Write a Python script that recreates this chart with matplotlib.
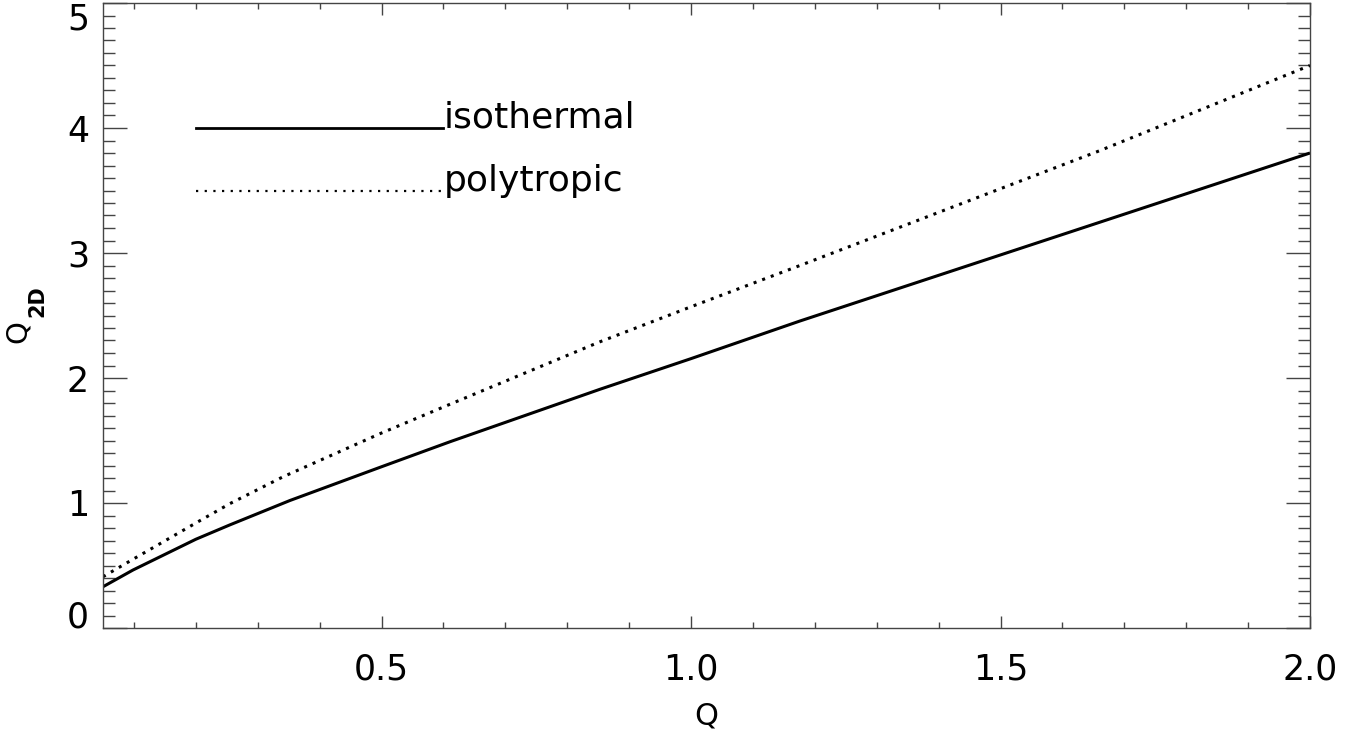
import numpy as np
import matplotlib.pyplot as plt
from matplotlib.ticker import MultipleLocator

# values
q_iso = [0.05, 0.0985, 0.2, 0.255, 0.352, 0.5, 0.6106, 0.853, 1.0, 1.176, 1.4506, 2.0]
q2d_iso = [0.33, 0.464, 0.71, 0.825, 1.02, 1.29, 1.49, 1.91, 2.155, 2.456, 2.904, 3.80]

q_poly = [0.05, 0.0985, 0.2, 0.255, 0.341, 0.5, 0.6106, 0.853, 1.0, 1.176, 1.661, 2.0]
q2d_poly = [0.41, 0.55, 0.84, 0.995, 1.21, 1.56, 1.79, 2.29, 2.57, 2.90, 3.82, 4.50]

legend_labels = ['isothermal', 'polytropic']
legend_y = [4.0, 3.5]
legend_x = [0.2, 0.6]

plt.rcParams['font.family'] = ['DejaVu Sans']

fig = plt.figure(figsize=(13.62, 7.36), dpi=100)
ax = fig.add_axes([103 / 1362, 108 / 736, 1207 / 1362, 625 / 736])

ax.plot(q_iso, q2d_iso, color='black', lw=2.2, solid_capstyle='butt')
ax.plot(q_poly, q2d_poly, color='black', lw=2.2, linestyle=(0, (1, 2)), dash_capstyle='butt')

# hand-made legend inside the plot
ax.plot(legend_x, [legend_y[0]] * 2, color='black', lw=2.0)
ax.plot(legend_x, [legend_y[1]] * 2, color='black', lw=1.6, linestyle=(0, (1, 2.9)))
for lab, yy in zip(legend_labels, legend_y):
    ax.text(legend_x[1], yy, lab, fontsize=26, va='baseline', ha='left')

ax.set_xlim(0.05, 2.0)
ax.set_ylim(0, 5)
ax.set_xticks([0.5, 1.0, 1.5, 2.0])
ax.set_yticks([0, 1, 2, 3, 4, 5])
ax.xaxis.set_minor_locator(MultipleLocator(0.1))
ax.yaxis.set_minor_locator(MultipleLocator(0.1))
ax.xaxis.set_major_formatter(plt.FormatStrFormatter('%.1f'))

edge = '#444444'
for s in ax.spines.values():
    s.set_color(edge)
    s.set_linewidth(1.0)
ax.tick_params(axis='both', which='both', direction='in', top=True, right=True,
               color=edge, width=1.0, labelsize=25)
ax.tick_params(axis='x', which='major', length=8.6, pad=18)
ax.tick_params(axis='x', which='minor', length=4.3)
ax.tick_params(axis='y', which='major', length=17.3, pad=10)
ax.tick_params(axis='y', which='minor', length=8.6)

# keep the end labels inside the figure like the original
ylabs = ax.get_yticklabels()
ylabs[0].set_va('baseline')
ylabs[-1].set_va('top')

ax.set_xlabel('Q', fontsize=22)
ax.xaxis.set_label_coords(0.5, -0.1408)
ax.xaxis.label.set_va('center')

# y label: Q with a large bold subscript
fig.text(18 / 1362, 1 - 332 / 736, 'Q', fontsize=21, rotation=90, ha='center', va='center')
fig.text(37 / 1362, 1 - 301 / 736, '2D', fontsize=15, fontweight='bold', rotation=90,
         ha='center', va='center')

fig.savefig('out.png', dpi=100)
